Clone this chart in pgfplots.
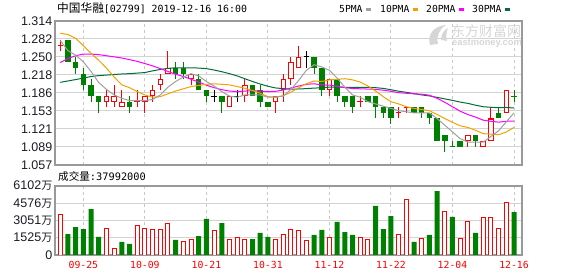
\documentclass[border=0pt]{standalone}
\usepackage{fontspec}
\setmainfont{Liberation Sans}
\newfontfamily\cjk{Noto Sans CJK SC}
\newfontfamily\mono{DejaVu Sans Mono}
\usepackage{pgfplots}
\usepackage{pgfplotstable}
\pgfplotsset{compat=1.18}
\definecolor{cred}{HTML}{FF0000}
\definecolor{cgreen}{HTML}{008000}
\definecolor{cma5}{HTML}{A0A0A0}
\definecolor{cma10}{HTML}{F2A200}
\definecolor{cma20}{HTML}{FF00FF}
\definecolor{cma30}{HTML}{006E38}
\definecolor{cframe}{HTML}{999999}
\definecolor{cgridh}{HTML}{D3D3D3}
\definecolor{cgridv}{HTML}{C8C8C8}
\definecolor{ctick}{HTML}{1C1C24}
\definecolor{cwm}{HTML}{D6D6D6}

\pgfplotstableread{
i O H L C t wc vc V
0 1.27 1.28 1.26 1.27 3 1 1 3626
1 1.28 1.28 1.24 1.24 2 2 0 1857
2 1.24 1.25 1.22 1.23 2 2 0 2476
3 1.22 1.23 1.19 1.20 2 2 0 2299
4 1.20 1.21 1.17 1.18 2 2 0 4068
5 1.18 1.18 1.15 1.17 2 2 0 1592
6 1.17 1.19 1.16 1.18 1 1 1 2358
7 1.17 1.20 1.16 1.18 1 1 1 590
8 1.16 1.19 1.16 1.17 1 1 0 1150
9 1.17 1.18 1.15 1.16 2 2 0 973
10 1.17 1.19 1.16 1.17 3 1 1 2624
11 1.17 1.18 1.15 1.18 1 1 1 2358
12 1.18 1.20 1.17 1.19 1 1 1 2270
13 1.20 1.22 1.19 1.21 1 1 1 2270
14 1.22 1.26 1.22 1.23 1 1 1 2800
15 1.23 1.24 1.21 1.22 2 2 0 1327
16 1.23 1.24 1.21 1.22 2 2 1 1150
17 1.21 1.22 1.20 1.22 1 1 1 1386
18 1.21 1.22 1.19 1.19 2 2 0 1680
19 1.19 1.19 1.17 1.18 2 2 0 3184
20 1.18 1.19 1.17 1.18 5 3 1 2182
21 1.18 1.18 1.15 1.17 2 2 0 2830
22 1.16 1.18 1.16 1.18 1 1 1 1386
23 1.18 1.19 1.17 1.18 5 3 1 1562
24 1.18 1.21 1.17 1.20 1 1 1 1386
25 1.20 1.20 1.18 1.18 2 2 0 1415
26 1.19 1.20 1.16 1.17 2 2 0 1946
27 1.17 1.17 1.16 1.16 2 2 0 1592
28 1.17 1.18 1.15 1.18 1 1 1 1327
29 1.19 1.22 1.17 1.21 1 1 1 1828
30 1.21 1.25 1.20 1.24 1 1 1 2270
31 1.23 1.27 1.23 1.25 1 1 1 2182
32 1.25 1.26 1.23 1.25 5 3 1 1297
33 1.25 1.25 1.22 1.23 2 2 0 1769
34 1.23 1.23 1.18 1.19 2 2 0 2211
35 1.19 1.21 1.18 1.21 1 1 1 1562
36 1.21 1.21 1.17 1.18 2 2 0 2919
37 1.18 1.18 1.16 1.17 2 2 0 2034
38 1.18 1.18 1.15 1.16 2 2 0 1769
39 1.17 1.18 1.16 1.17 3 1 1 1562
40 1.18 1.18 1.17 1.17 2 2 1 1386
41 1.18 1.18 1.14 1.16 2 2 0 4334
42 1.16 1.16 1.14 1.15 2 2 0 2299
43 1.16 1.16 1.13 1.14 2 2 0 3449
44 1.15 1.16 1.14 1.15 3 1 1 1828
45 1.16 1.16 1.15 1.16 3 1 1 4923
46 1.16 1.16 1.15 1.15 2 2 0 1150
47 1.16 1.16 1.14 1.15 2 2 1 1474
48 1.15 1.15 1.13 1.14 2 2 0 1769
49 1.14 1.14 1.10 1.10 2 2 0 5660
50 1.11 1.11 1.08 1.10 2 2 1 3862
51 1.09 1.10 1.09 1.09 4 2 0 3361
52 1.10 1.10 1.09 1.09 2 2 1 1474
53 1.10 1.11 1.09 1.11 1 1 1 2977
54 1.11 1.11 1.09 1.10 2 2 0 1946
55 1.09 1.10 1.09 1.10 1 1 1 3331
56 1.10 1.16 1.10 1.14 1 1 1 3331
57 1.15 1.16 1.14 1.14 2 2 1 2358
58 1.15 1.19 1.15 1.19 1 1 1 4658
59 1.18 1.19 1.17 1.18 4 2 0 3799
}\candles

\pgfplotstableread{
i m5 m10 m20 m30
0 1.279 1.292 1.240 1.2045
1 1.261 1.290 1.247 1.2070
2 1.253 1.283 1.252 1.2095
3 1.241 1.270 1.255 1.2120
4 1.224 1.256 1.255 1.2150
5 1.204 1.244 1.254 1.2165
6 1.192 1.230 1.252 1.2175
7 1.182 1.214 1.250 1.2185
8 1.176 1.200 1.248 1.2195
9 1.172 1.195 1.245 1.2200
10 1.172 1.188 1.242 1.2210
11 1.172 1.182 1.238 1.2220
12 1.174 1.178 1.234 1.2250
13 1.182 1.179 1.229 1.2275
14 1.196 1.184 1.224 1.2295
15 1.206 1.189 1.219 1.2305
16 1.214 1.193 1.215 1.2305
17 1.220 1.197 1.210 1.2305
18 1.216 1.199 1.205 1.2300
19 1.206 1.201 1.1995 1.2290
20 1.198 1.202 1.195 1.2265
21 1.188 1.201 1.1915 1.2235
22 1.180 1.200 1.189 1.2200
23 1.178 1.197 1.188 1.2160
24 1.182 1.194 1.189 1.2110
25 1.182 1.190 1.1895 1.2060
26 1.182 1.185 1.189 1.2015
27 1.178 1.179 1.188 1.1975
28 1.178 1.178 1.1885 1.1945
29 1.180 1.181 1.191 1.1933
30 1.192 1.187 1.1945 1.1923
31 1.208 1.195 1.198 1.1927
32 1.226 1.202 1.201 1.1933
33 1.236 1.207 1.202 1.1943
34 1.232 1.206 1.200 1.1947
35 1.226 1.209 1.1995 1.1960
36 1.212 1.210 1.1975 1.1960
37 1.196 1.211 1.195 1.1957
38 1.182 1.209 1.1935 1.1953
39 1.178 1.205 1.193 1.1957
40 1.170 1.198 1.1925 1.1957
41 1.166 1.189 1.192 1.1950
42 1.162 1.179 1.1905 1.1937
43 1.158 1.170 1.1885 1.1913
44 1.154 1.166 1.186 1.1887
45 1.152 1.161 1.185 1.1867
46 1.150 1.158 1.184 1.1843
47 1.150 1.156 1.1835 1.1820
48 1.150 1.154 1.1815 1.1803
49 1.140 1.147 1.176 1.1777
50 1.128 1.140 1.169 1.1750
51 1.116 1.133 1.161 1.1723
52 1.104 1.127 1.153 1.1693
53 1.098 1.124 1.147 1.1670
54 1.098 1.119 1.1425 1.1637
55 1.098 1.113 1.137 1.1610
56 1.108 1.112 1.135 1.1600
57 1.118 1.111 1.1335 1.1593
58 1.134 1.116 1.135 1.1597
59 1.150 1.124 1.1355 1.1587
}\ma

\pgfplotsset{
  kbase/.style={
    scale only axis, width=467bp,
    xmin=-0.689, xmax=60.04,
    xtick={3,11,19,27,35,43,51,59},
    major tick length=0pt,
    xmajorgrids, ymajorgrids,
    x grid style={draw=cgridv, dash pattern=on 3bp off 3bp, line width=1bp},
    y grid style={draw=cgridh, line width=1bp},
    axis line style={draw=cframe, line width=1.4bp},
    yticklabel style={font=\fontsize{12.5bp}{14bp}\selectfont, text=ctick, inner sep=0pt, xshift=-2.5bp, anchor=east},
    unbounded coords=discard,
  },
}

\begin{document}
\begin{tikzpicture}
\useasboundingbox (0,0) rectangle (578bp,276bp);

% ---------- price panel ----------
\begin{axis}[kbase,
  at={(55bp,111bp)}, anchor=south west, height=144bp,
  ymin=1.057, ymax=1.314,
  xticklabels={},
  ytick={1.057,1.089125,1.12125,1.153375,1.1855,1.217625,1.24975,1.281875,1.314},
  yticklabels={1.057,1.089,1.121,1.153,1.186,1.218,1.250,1.282,1.314},
]
% wicks
\addplot[draw=cred, line width=1bp, quiver={u=0, v=\thisrow{H}-\thisrow{L}},
  restrict expr to domain={\thisrow{wc}}{1:1}] table[x=i, y=L] {\candles};
\addplot[draw=cgreen, line width=1bp, quiver={u=0, v=\thisrow{H}-\thisrow{L}},
  restrict expr to domain={\thisrow{wc}}{2:2}] table[x=i, y=L] {\candles};
\addplot[draw=black, line width=1bp, quiver={u=0, v=\thisrow{H}-\thisrow{L}},
  restrict expr to domain={\thisrow{wc}}{3:3}] table[x=i, y=L] {\candles};
% green bodies
\addplot[draw=cgreen, line width=5.5bp, quiver={u=0, v=\thisrow{C}-\thisrow{O}},
  restrict expr to domain={\thisrow{t}}{2:2}] table[x=i, y=O] {\candles};
% red hollow bodies
\addplot[draw=cred, line width=5.5bp, quiver={u=0, v=\thisrow{C}-\thisrow{O}},
  restrict expr to domain={\thisrow{t}}{1:1}] table[x=i, y=O] {\candles};
\addplot[draw=white, line width=3.5bp, quiver={u=0, v=\thisrow{C}-\thisrow{O}-0.0036},
  restrict expr to domain={\thisrow{t}}{1:1}] table[x=i, y expr=\thisrow{O}+0.0018] {\candles};
% crosses (open = close)
\addplot[draw=cred, line width=1bp, quiver={u=0.72, v=0},
  restrict expr to domain={\thisrow{t}}{3:3}] table[x expr=\thisrow{i}-0.36, y=C] {\candles};
\addplot[draw=cgreen, line width=1bp, quiver={u=0.72, v=0},
  restrict expr to domain={\thisrow{t}}{4:4}] table[x expr=\thisrow{i}-0.36, y=C] {\candles};
\addplot[draw=black, line width=1bp, quiver={u=0.72, v=0},
  restrict expr to domain={\thisrow{t}}{5:5}] table[x expr=\thisrow{i}-0.36, y=C] {\candles};
% moving averages
\addplot[draw=cma30, line width=1bp] table[x=i, y=m30] {\ma};
\addplot[draw=cma20, line width=1bp] table[x=i, y=m20] {\ma};
\addplot[draw=cma10, line width=1bp] table[x=i, y=m10] {\ma};
\addplot[draw=cma5, line width=1bp] table[x=i, y=m5] {\ma};
\end{axis}

% ---------- volume panel ----------
\begin{axis}[kbase,
  at={(55bp,21bp)}, anchor=south west, height=69bp,
  ymin=0, ymax=6102,
  xticklabels={09-25,10-09,10-21,10-31,11-12,11-22,12-04,12-16},
  xticklabel style={font=\mono\fontsize{9.8bp}{11bp}\selectfont, text=cred, inner sep=0pt, anchor=north, yshift=-6.5bp},
  ytick={0,1525.5,3051,4576.5,6102},
  yticklabels={0,{1525{\cjk\fontsize{11bp}{12bp}\selectfont 万}},{3051{\cjk\fontsize{11bp}{12bp}\selectfont 万}},{4576{\cjk\fontsize{11bp}{12bp}\selectfont 万}},{6102{\cjk\fontsize{11bp}{12bp}\selectfont 万}}},
]
\addplot[ybar, bar width=4bp, bar shift=0pt, draw=cred, fill=white, line width=1bp,
  restrict expr to domain={\thisrow{vc}}{1:1}] table[x=i, y=V] {\candles};
\addplot[ybar, bar width=5bp, bar shift=0pt, draw=none, fill=cgreen,
  restrict expr to domain={\thisrow{vc}}{0:0}] table[x=i, y=V] {\candles};
\end{axis}

% ---------- texts ----------
\node[anchor=base west, inner sep=0pt] at (57bp,263.5bp)
  {{\cjk\fontsize{11.7bp}{13bp}\selectfont 中国华融}{\mono\fontsize{9.9bp}{12bp}\selectfont [02799] 2019-12-16 16:00}};

\node[anchor=base west, inner sep=0pt, font=\mono\fontsize{9.7bp}{12bp}\selectfont] at (339bp,263.8bp) {5PMA};
\fill[cma5] (366bp,265bp) rectangle (371bp,267.5bp);
\node[anchor=base west, inner sep=0pt, font=\mono\fontsize{9.7bp}{12bp}\selectfont] at (380bp,263.8bp) {10PMA};
\fill[cma10] (413bp,265bp) rectangle (418bp,267.5bp);
\node[anchor=base west, inner sep=0pt, font=\mono\fontsize{9.7bp}{12bp}\selectfont] at (426bp,263.8bp) {20PMA};
\fill[cma20] (459bp,265bp) rectangle (464bp,267.5bp);
\node[anchor=base west, inner sep=0pt, font=\mono\fontsize{9.7bp}{12bp}\selectfont] at (472bp,263.8bp) {30PMA};
\fill[cma30] (505bp,265bp) rectangle (510bp,267.5bp);

% watermark
\fill[cwm] (430bp,231bp) .. controls (427bp,242bp) and (434bp,250bp) .. (446bp,251bp)
  .. controls (439bp,246bp) and (436bp,240bp) .. (438bp,232bp) -- cycle;
\fill[cwm] (441bp,236bp) .. controls (441bp,242bp) and (444bp,246bp) .. (448bp,248bp)
  .. controls (446bp,243bp) and (446bp,239bp) .. (447bp,235bp) -- cycle;
\node[anchor=base west, inner sep=0pt, text=cwm, font=\cjk\fontsize{14bp}{15bp}\selectfont] at (451bp,239bp) {东方财富网};
\node[anchor=base west, inner sep=0pt, text=cwm, font=\bfseries\fontsize{9.3bp}{10bp}\selectfont] at (452bp,230.5bp) {eastmoney.com};

% volume caption
\node[anchor=base west, inner sep=0pt] at (58bp,95.3bp)
  {{\cjk\fontsize{10.6bp}{12bp}\selectfont 成交量}{\mono\fontsize{10.3bp}{12bp}\selectfont :37992000}};
\end{tikzpicture}
\end{document}
